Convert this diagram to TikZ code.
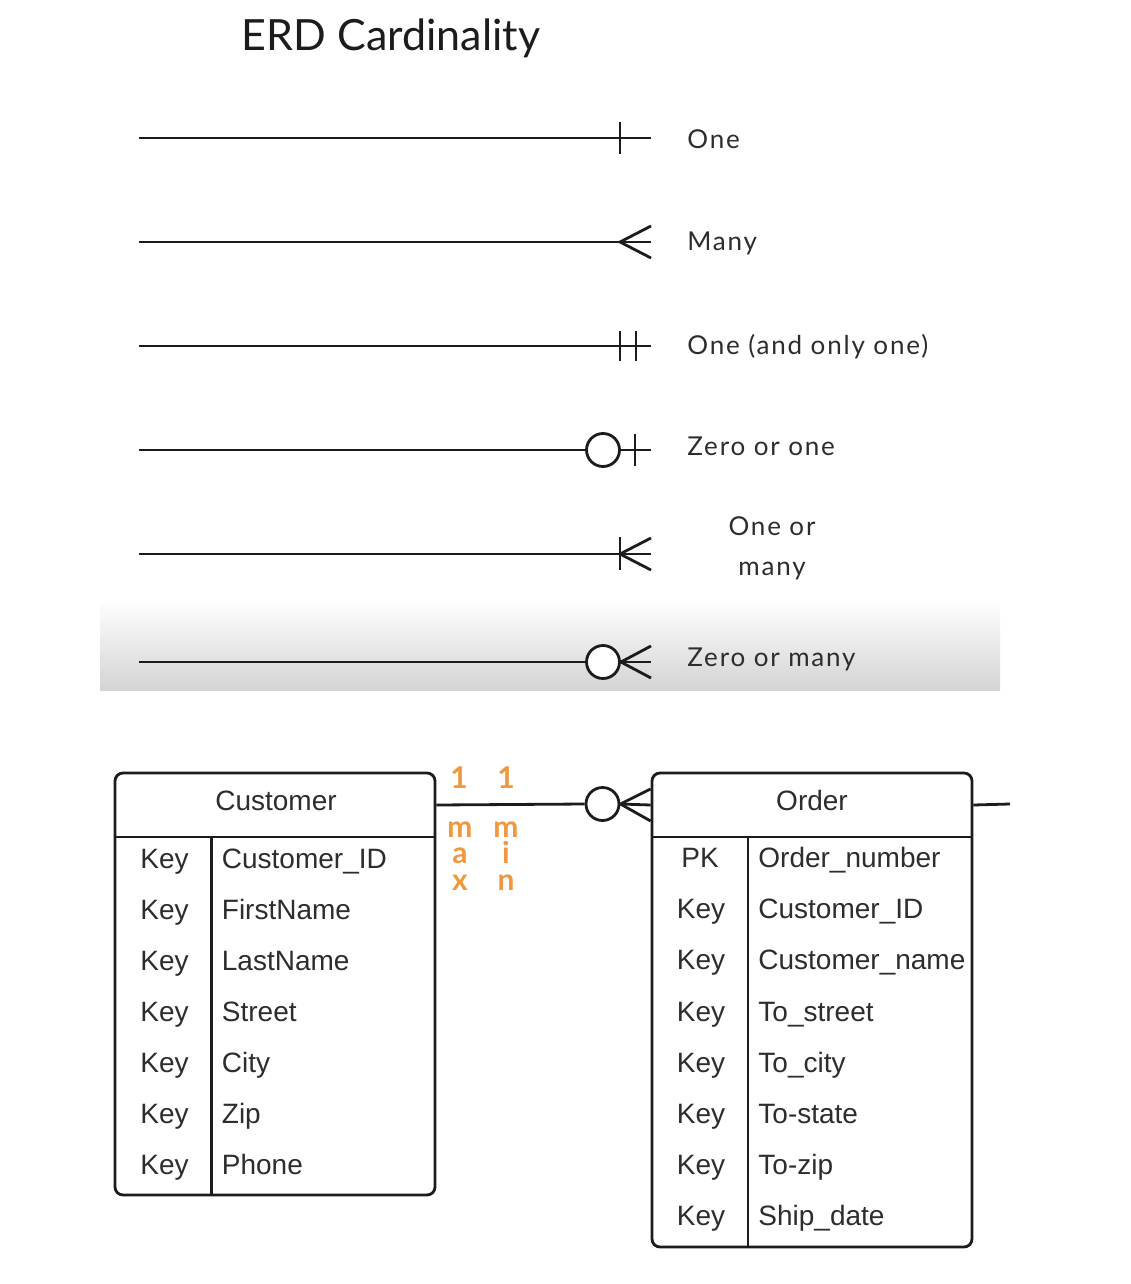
\documentclass[tikz,border=0pt]{standalone}
\usepackage{fontspec}
\setmainfont{Liberation Sans}
\newfontfamily\lato{Lato}
\newfontfamily\latowide{Lato}[LetterSpace=7]
\usetikzlibrary{calc}
\definecolor{ink}{RGB}{28,28,28}
\definecolor{txt}{RGB}{45,45,45}
\definecolor{orng}{RGB}{240,152,62}
\definecolor{bandbot}{RGB}{212,212,212}
\definecolor{bandmid}{RGB}{238,238,238}
\begin{document}
\begin{tikzpicture}[x=1pt,y=-1pt,line width=2.8pt,draw=ink,
  lbl/.style={font=\latowide\fontsize{26}{30}\selectfont,text=txt,anchor=base west,inner sep=0},
  lblc/.style={font=\latowide\fontsize{26}{30}\selectfont,text=txt,anchor=base,inner sep=0},
  ttl/.style={font=\lato\fontsize{43}{50}\selectfont,text=ink,anchor=base,inner sep=0},
  zcirc/.style={circle,draw=ink,fill=white,line width=2.8pt,minimum size=33,inner sep=0},
  tbl/.style={draw=ink,rounded corners=8pt,line width=2.8pt,inner sep=0},
  hdrbox/.style={inner sep=0,minimum width=320,minimum height=64},
  hdr/.style={font=\fontsize{28}{32}\selectfont,text=txt,anchor=base,inner sep=0},
  keytxt/.style={font=\fontsize{28}{32}\selectfont,text=txt,anchor=base,inner sep=0},
  fld/.style={font=\fontsize{28}{32}\selectfont,text=txt,anchor=base west,inner sep=0},
  org/.style={font=\lato\bfseries\fontsize{30}{32}\selectfont,text=orng,anchor=base,inner sep=0},
  orgcol/.style={font=\lato\bfseries\fontsize{30}{26.3}\selectfont,text=orng,anchor=south,align=center,inner sep=0}]
\useasboundingbox (0,0) rectangle (1130,1284);
\fill[white] (0,0) rectangle (1130,1284);
% gradient band
\shade[top color=white,middle color=bandmid,bottom color=bandbot] (100,598) rectangle (1000,690);

% title
\node[ttl] (title) at (391,51) {ERD Cardinality};

% row 1: One
\coordinate (s1) at (139,138); \coordinate (e1) at (651,138);
\draw (s1) -- (e1);
\draw (620,122) -- (620,154);
\node[lbl] (l1) at (686,149) {One};

% row 2: Many
\coordinate (s2) at (139,242); \coordinate (e2) at (651,242);
\draw (s2) -- (e2);
\draw (651,226) -- (620,242) -- (651,258);
\node[lbl] (l2) at (686,250) {Many};

% row 3: One and only one
\coordinate (s3) at (139,346); \coordinate (e3) at (651,346);
\draw (s3) -- (e3);
\draw (620,331) -- (620,361);
\draw (636,331) -- (636,361);
\node[lbl] (l3) at (686,354) {One (and only one)};

% row 4: Zero or one
\coordinate (s4) at (139,450); \coordinate (e4) at (651,450);
\node[zcirc] (c4) at (603,450) {};
\draw (s4) -- (c4.west);
\draw (c4.east) -- (e4);
\draw (635,434) -- (635,466);
\node[lbl] (l4) at (686,455) {Zero or one};

% row 5: One or many
\coordinate (s5) at (139,554); \coordinate (e5) at (651,554);
\draw (s5) -- (e5);
\draw (620,537) -- (620,570);
\draw (651,538) -- (620,554) -- (651,570);
\node[lblc] (l5a) at (772,535) {One or};
\node[lblc] (l5b) at (772,575) {many};

% row 6: Zero or many
\coordinate (s6) at (139,662); \coordinate (e6) at (651,662);
\node[zcirc] (c6) at (603,662) {};
\draw (s6) -- (c6.west);
\draw (c6.east) -- (e6);
\draw (651,646) -- (c6.east) -- (651,678);
\node[lbl] (l6) at (686,666) {Zero or many};

% ===== Customer table =====
\node[tbl,minimum width=320,minimum height=422] (cust) at (275,984) {};
\node[hdrbox] (custhead) at (275,805) {};
\draw (115,837) -- (435,837);
\draw (211.5,837) -- (211.5,1195);
\node[hdr] (custttl) at (276,810) {Customer};
\foreach \i/\f in {0/Customer\_ID,1/FirstName,2/LastName,3/Street,4/City,5/Zip,6/Phone}{
  \node[keytxt] (ck\i) at (164.5,868+51*\i) {Key};
  \node[fld] (cf\i) at (220.5,868+51*\i) {\f};
}

% ===== Order table =====
\node[tbl,minimum width=320,minimum height=474] (ord) at (812,1010) {};
\node[hdrbox] (ordhead) at (812,805) {};
\draw (652,837) -- (972,837);
\draw (748,837) -- (748,1247);
\node[hdr] (ordttl) at (812,810) {Order};
\node[keytxt] (ok0) at (700,867.5) {PK};
\node[fld] (of0) at (757,867.5) {Order\_number};
\foreach \i/\f in {1/Customer\_ID,2/Customer\_name,3/To\_street,4/To\_city,5/To-state,6/To-zip,7/Ship\_date}{
  \node[keytxt] (ok\i) at (701,867.5+51.2*\i) {Key};
  \node[fld] (of\i) at (757,867.5+51.2*\i) {\f};
}

% ===== relationship =====
\node[zcirc] (rc) at (602.5,804) {};
\draw (custhead.east) -- (rc.west);
\draw (rc.east) -- (ordhead.west);
\draw ($(ordhead.west)+(0,-16)$) -- (rc.east) -- ($(ordhead.west)+(0,16)$);
\coordinate (tail) at (1010,804);
\draw (ordhead.east) -- (tail);

% cardinality labels
\node[org] (one1) at (459,788) {1};
\node[org] (one2) at (506,788) {1};
\node[orgcol] (maxlbl) at (460,891.5) {m\\a\\x};
\node[orgcol] (minlbl) at (506,891.5) {m\\i\\n};
\end{tikzpicture}
\end{document}
